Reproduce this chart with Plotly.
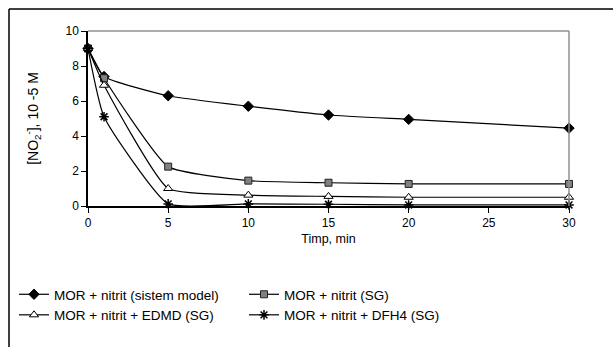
import plotly.graph_objects as go

t = [0, 1, 5, 10, 15, 20, 30]
s_model = [9.0, 7.4, 6.3, 5.7, 5.2, 4.95, 4.45]
s_sg = [9.0, 7.3, 2.25, 1.45, 1.33, 1.26, 1.26]
s_edmd = [9.0, 6.9, 1.0, 0.62, 0.55, 0.5, 0.5]
s_dfh4 = [9.0, 5.1, 0.12, 0.12, 0.1, 0.06, 0.06]

names = ["MOR + nitrit (sistem model)", "MOR + nitrit (SG)",
         "MOR + nitrit + EDMD (SG)", "MOR + nitrit + DFH4 (SG)"]
x_ticks = [0, 5, 10, 15, 20, 25, 30]
y_ticks = [0, 2, 4, 6, 8, 10]

fig = go.Figure()
styles = [
    dict(symbol="diamond", size=8, color="black", line=dict(color="black", width=1)),
    dict(symbol="square", size=7, color="#808080", line=dict(color="#222222", width=1)),
    dict(symbol="triangle-up", size=8, color="white", line=dict(color="black", width=1)),
    dict(symbol="asterisk-open", size=8, color="black", line=dict(color="black", width=1.5)),
]
for ys, nm, st in zip([s_model, s_sg, s_edmd, s_dfh4], names, styles):
    fig.add_trace(go.Scatter(
        x=t, y=ys, name=nm, mode="lines+markers",
        line=dict(color="black", width=1.2, shape="spline", smoothing=0.45),
        marker=st, cliponaxis=False))

L, R, T, B = 88, 44, 31, 141
W, H = 613, 347
pw, ph = W - L - R, H - T - B

fig.update_layout(
    width=W, height=H,
    margin=dict(l=L, r=R, t=T, b=B),
    paper_bgcolor="white", plot_bgcolor="white",
    font=dict(family="Liberation Sans, Arial, sans-serif", size=12, color="black"),
    xaxis=dict(range=[0, 30], tickvals=x_ticks, showgrid=False, zeroline=False,
               showline=True, linecolor="black", linewidth=1.5,
               ticks="outside", ticklen=5, tickcolor="black",
               title=dict(text="Timp, min", standoff=5, font=dict(size=12.5))),
    yaxis=dict(range=[0, 10], tickvals=y_ticks, showgrid=False, zeroline=False,
               showline=True, linecolor="black", linewidth=1.5,
               ticks="outside", ticklen=5, tickcolor="black",
               title=dict(text="[NO<sub>2</sub><sup>-</sup>], 10 -5 M", standoff=24, font=dict(size=14))),
    legend=dict(orientation="h", x=(14 - L) / pw, y=(H - B - 279) / ph,
                xanchor="left", yanchor="top",
                entrywidth=185, entrywidthmode="pixels",
                font=dict(size=13.5), itemwidth=30, tracegroupgap=0,
                bgcolor="rgba(0,0,0,0)"),
    showlegend=True,
)

# plot area border (top and right, gray)
fig.add_shape(type="line", xref="x domain", yref="y domain", x0=0, x1=1, y0=1, y1=1,
              line=dict(color="#909090", width=1.5))
fig.add_shape(type="line", xref="x domain", yref="y domain", x0=1, x1=1, y0=0, y1=1,
              line=dict(color="#909090", width=1.5))
# outer chart frame (top and left)
fx0 = (9 - L) / pw
fy1 = (H - B - 9) / ph
fig.add_shape(type="line", xref="paper", yref="paper", x0=fx0, x1=(W - L) / pw, y0=fy1, y1=fy1,
              line=dict(color="black", width=1.5))
fig.add_shape(type="line", xref="paper", yref="paper", x0=fx0, x1=fx0, y0=fy1, y1=-(B + 5) / ph,
              line=dict(color="black", width=1.5))

fig.write_html("out.html")
